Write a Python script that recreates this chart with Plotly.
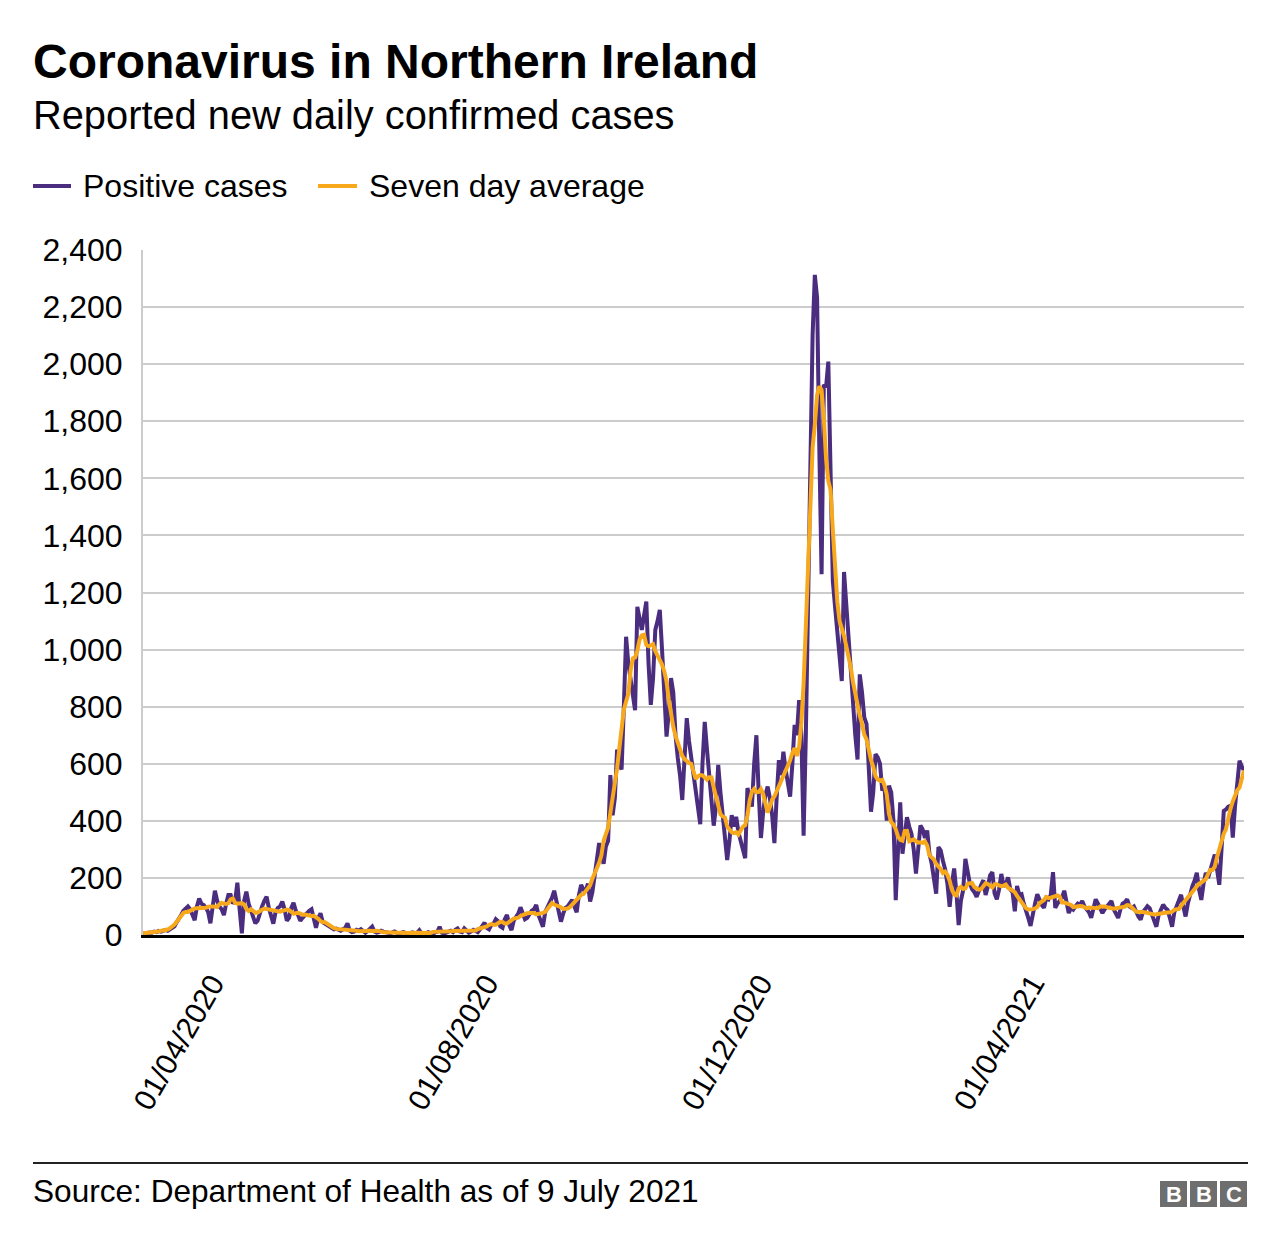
import pandas as pd
import plotly.graph_objects as go

# ---------------- DATA ----------------
start_date = "2020-03-06"

cases_2020_mar_may = [
    4, 6, 5, 9, 8, 12, 10, 14, 12, 16, 18, 15, 20, 22, 30, 45, 55, 70, 85, 95,
    100, 90, 70, 52, 100, 128, 110, 105, 95, 80,
    41, 110, 155, 120, 100, 90, 70, 110, 140, 140,
    110, 120, 183, 90, 6, 120, 152, 110, 90, 70,
    41, 50, 80, 100, 120, 134, 95, 70, 40, 80,
    95, 100, 117, 90, 50, 60, 95, 113, 85, 70,
    50, 60, 70, 75, 85, 90, 60, 25, 60, 76,
    45, 40, 35, 30, 25, 20, 22,
]

cases_2020_jun_sep = [
    18, 15, 20, 25, 41, 15, 10, 12, 18, 15, 20, 12, 8,
    14, 20, 29, 12, 8, 10, 15, 12, 10, 8,
    6, 9, 12, 7, 5, 8, 10, 6, 4, 7,
    9, 5, 8, 17, 6, 4, 8, 10, 6, 3,
    9, 12, 29, 8, 5, 10, 12, 15, 10, 18,
    23, 12, 10, 23, 15, 8, 12, 18, 14, 10,
    20, 30, 43, 25, 20, 35, 40, 55, 48, 30,
    25, 55, 70, 35, 17, 50, 60, 75, 97, 70,
    55, 60, 75, 85, 90, 105, 70, 52, 29, 80,
    95, 110, 130, 155, 120, 90, 47, 75, 95, 100,
    110, 123, 100, 80, 140, 175, 160, 150, 180, 117,
    150, 200, 260, 322, 280, 250, 310, 330, 560,
]

cases_2020_oct_dec = [
    420,
    480, 650, 600, 580, 800, 1045, 950, 900, 850, 788,
    1150, 1100, 1069, 1120, 1168, 950, 806, 900, 1069, 1100,
    1139, 1000, 850, 695, 780, 900, 850, 700, 620, 560,
    473, 600, 760, 680, 620, 567, 520, 450, 388, 600,
    747, 650, 560, 480, 383, 450, 596, 500, 420, 350,
    263, 330, 420, 380, 414, 360, 330, 290, 269, 515,
    480, 450, 600, 700, 500, 340, 430, 490, 520, 480,
    420, 322, 480, 613, 560, 642, 580, 540, 485, 600,
    736, 700, 823, 700, 348, 700, 1200, 1700, 2100, 2313,
    2234,
]

cases_2021_jan_mar = [
    1700, 1264, 1928, 1920, 2009, 1623, 1241, 1150, 1050,
    950, 890, 1272, 1150, 1073, 950, 800, 700, 615, 913,
    850, 762, 740, 600, 432, 500, 634, 622, 600, 506,
    520, 401, 523, 500, 400, 122, 300, 465, 285, 350,
    413, 380, 355, 300, 215, 300, 384, 370, 340, 366,
    285, 250, 200, 145, 308, 297, 260, 230, 180, 99,
    180, 233, 150, 35, 120, 157, 267, 220, 180, 160,
    150, 134, 160, 175, 192, 140, 170, 209, 220, 145,
    125, 160, 214, 170, 180, 202, 160, 150, 83, 172,
    140,
]

cases_2021_apr_jul = [
    143, 110, 89, 60, 32, 80, 110, 143, 120,
    105, 95, 130, 125, 140, 220, 95, 110, 120, 130,
    155, 110, 77, 95, 89, 100, 110, 105, 119, 100,
    90, 80, 60, 100, 125, 110, 95, 77, 90, 100,
    110, 119, 90, 75, 60, 90, 110, 115, 125, 100,
    95, 100, 80, 65, 54, 80, 90, 101, 94, 70,
    50, 29, 70, 90, 106, 95, 88, 60, 29, 80,
    100, 120, 141, 100, 65, 110, 147, 170, 190, 218,
    160, 123, 180, 218, 200, 230, 260, 282, 230, 176,
    300, 435, 440, 450, 453, 341, 450, 530, 611, 590, 576,
]

tick_dates = ["2020-04-01", "2020-08-01", "2020-12-01", "2021-04-01"]
tick_labels = ["01/04/2020", "01/08/2020", "01/12/2020", "01/04/2021"]
y_ticks = [0, 200, 400, 600, 800, 1000, 1200, 1400, 1600, 1800, 2000, 2200, 2400]

series_names = ["Positive cases", "Seven day average"]
title_text = "Coronavirus in Northern Ireland"
subtitle_text = "Reported new daily confirmed cases"
source_text = "Source: Department of Health as of 9 July 2021"

# ---------------- BUILD ----------------
cases = (cases_2020_mar_may + cases_2020_jun_sep + cases_2020_oct_dec
         + cases_2021_jan_mar + cases_2021_apr_jul)
dates = pd.date_range(start_date, periods=len(cases), freq="D")
series = pd.Series(cases, index=dates)
seven_day = series.rolling(7, center=True, min_periods=1).mean()

PURPLE = "#4b2d7f"
ORANGE = "#f7a81b"
FONT = "Liberation Sans, Arial, Helvetica, sans-serif"
TXT = "#222222"

W, H = 1280, 1250
L, R, T, B = 143, 36, 250, 315
PW, PH = W - L - R, H - T - B


def px(x):
    return (x - L) / PW


def py(y):
    return (H - B - y) / PH


fig = go.Figure()
fig.add_trace(go.Scatter(x=dates, y=series.values, mode="lines",
                         line=dict(color=PURPLE, width=4),
                         name=series_names[0], hoverinfo="skip"))
fig.add_trace(go.Scatter(x=dates, y=seven_day.values, mode="lines",
                         line=dict(color=ORANGE, width=4),
                         name=series_names[1], hoverinfo="skip"))

shapes = []
annotations = []

# Title / subtitle
annotations.append(dict(text="<b>" + title_text + "</b>", x=px(31), y=py(61),
                        xref="paper", yref="paper", xanchor="left", yanchor="middle",
                        showarrow=False, font=dict(family=FONT, size=48, color="#000")))
annotations.append(dict(text=subtitle_text, x=px(31), y=py(115),
                        xref="paper", yref="paper", xanchor="left", yanchor="middle",
                        showarrow=False, font=dict(family=FONT, size=39.8, color="#000")))

# Manual legend
legend_items = [(33, 71, 81, PURPLE, series_names[0]),
                (318, 357, 367, ORANGE, series_names[1])]
for x0, x1, xt, col, name in legend_items:
    shapes.append(dict(type="line", xref="paper", yref="paper",
                       x0=px(x0), x1=px(x1), y0=py(186), y1=py(186),
                       line=dict(color=col, width=4)))
    annotations.append(dict(text=name, x=px(xt), y=py(186), xref="paper", yref="paper",
                            xanchor="left", yanchor="middle", showarrow=False,
                            font=dict(family=FONT, size=32, color="#000")))

# Footer rule + source
shapes.append(dict(type="line", xref="paper", yref="paper",
                   x0=px(33), x1=px(1248), y0=py(1163), y1=py(1163),
                   line=dict(color="#222", width=2)))
annotations.append(dict(text=source_text, x=px(31), y=py(1191), xref="paper", yref="paper",
                        xanchor="left", yanchor="middle", showarrow=False,
                        font=dict(family=FONT, size=31.6, color="#000")))

# BBC blocks
for i, letter in enumerate(["B", "B", "C"]):
    bx0 = 1160 + i * 30
    shapes.append(dict(type="rect", xref="paper", yref="paper",
                       x0=px(bx0), x1=px(bx0 + 27), y0=py(1181), y1=py(1207),
                       fillcolor="#6e6e6e", line=dict(width=0)))
    annotations.append(dict(text="<b>" + letter + "</b>", x=px(bx0 + 13.5), y=py(1194),
                            xref="paper", yref="paper", xanchor="center", yanchor="middle",
                            showarrow=False, font=dict(family=FONT, size=22, color="#fff")))

fig.update_layout(
    width=W, height=H,
    margin=dict(l=L, r=R, t=T, b=B, pad=0),
    paper_bgcolor="white", plot_bgcolor="white",
    showlegend=False,
    shapes=shapes, annotations=annotations,
    font=dict(family=FONT, color=TXT),
)

fig.update_xaxes(
    type="date", range=[dates[0], dates[-1]],
    tickmode="array", tickvals=tick_dates, ticktext=tick_labels,
    tickangle=-60, tickfont=dict(family=FONT, size=30, color="#000"),
    showgrid=False, zeroline=False,
    showline=True, linecolor="#000", linewidth=3,
    ticks="", ticklabelstandoff=16, ticklabelshift=11,
)
fig.update_yaxes(
    range=[0, 2400], tickmode="array", tickvals=y_ticks, tickformat=",",
    tickfont=dict(family=FONT, size=32, color="#000"),
    showgrid=True, gridcolor="#cccccc", gridwidth=2,
    zeroline=False, showline=True, linecolor="#cccccc", linewidth=2,
    ticks="", ticklabelstandoff=12,
)

fig.write_html("out.html", config={"displayModeBar": False},
               post_script="document.body.style.margin='0';")
